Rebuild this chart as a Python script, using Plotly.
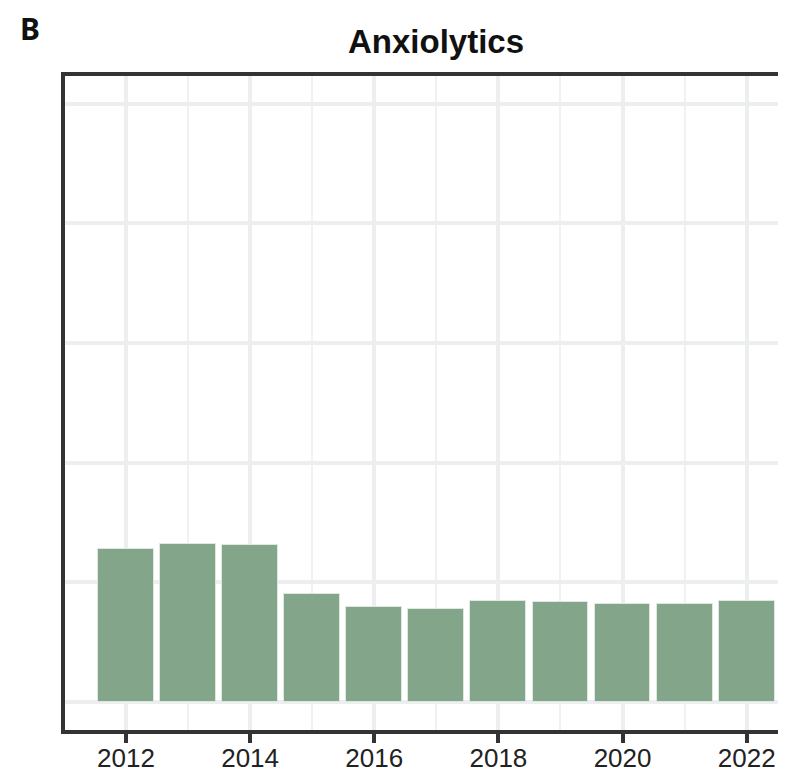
import plotly.graph_objects as go

years = [2012, 2013, 2014, 2015, 2016, 2017, 2018, 2019, 2020, 2021, 2022]
values = [12.8, 13.2, 13.1, 9.0, 7.9, 7.75, 8.4, 8.3, 8.15, 8.15, 8.4]
x_ticks = [2012, 2014, 2016, 2018, 2020, 2022]
x_tick_labels = ["2012", "2014", "2016", "2018", "2020", "2022"]
title_text = "Anxiolytics"
panel_label = "B"

OFF = 8  # page body margin
W, H = 786 - OFF, 772 - OFF
L, R, T, B = 64.7 - OFF, 0, 75.5 - OFF, 42
pw = W - L - R
ph = H - T - B

fig = go.Figure()
fig.add_trace(go.Bar(
    x=years, y=values, width=0.9,
    marker=dict(color="#83A68A", line=dict(color="#dfe8e0", width=1)),
    showlegend=False,
))

fig.update_layout(
    width=W, height=H,
    margin=dict(l=L, r=R, t=T, b=B, pad=0, autoexpand=False),
    paper_bgcolor="white", plot_bgcolor="white",
    font=dict(family="Liberation Sans, Arial, sans-serif", color="#222222"),
    bargap=0,
    title=dict(text=title_text, xref="container", x=(436 - OFF) / W, xanchor="center",
               yref="container", y=1 - (41 - OFF) / H, yanchor="middle",
               font=dict(size=33, family="Liberation Sans, Arial, sans-serif", color="#111111", weight="bold")),
    annotations=[dict(text=panel_label, xref="paper", yref="paper",
                      x=(30 - OFF - L) / pw, y=(H - (28 - OFF) - B) / ph, xanchor="center", yanchor="middle",
                      showarrow=False,
                      font=dict(size=30, family="Noto Sans, DejaVu Sans, sans-serif", color="#111111", weight="bold"))],
)

fig.update_xaxes(
    range=[2011.018, 2022.633],
    automargin=False,
    tickmode="array", tickvals=x_ticks, ticktext=x_tick_labels,
    ticks="outside", ticklen=9, tickwidth=4, tickcolor="#333333",
    ticklabelstandoff=-7,
    tickfont=dict(size=26, color="#222222"),
    showgrid=True, gridcolor="#EDEEF0", gridwidth=4,
    minor=dict(tickmode="linear", tick0=2011, dtick=1, showgrid=True, gridcolor="#F0F1F2", gridwidth=2, ticks=""),
    showline=True, linecolor="#333333", linewidth=4, mirror=True,
    zeroline=False,
)
fig.update_yaxes(
    range=[-2.38, 52.34],
    automargin=False,
    tickmode="linear", tick0=0, dtick=10,
    showticklabels=False, ticks="",
    showgrid=True, gridcolor="#EDEEF0", gridwidth=4,
    showline=True, linecolor="#333333", linewidth=4, mirror=False,
    zeroline=False,
)

fig.write_html("out.html")
